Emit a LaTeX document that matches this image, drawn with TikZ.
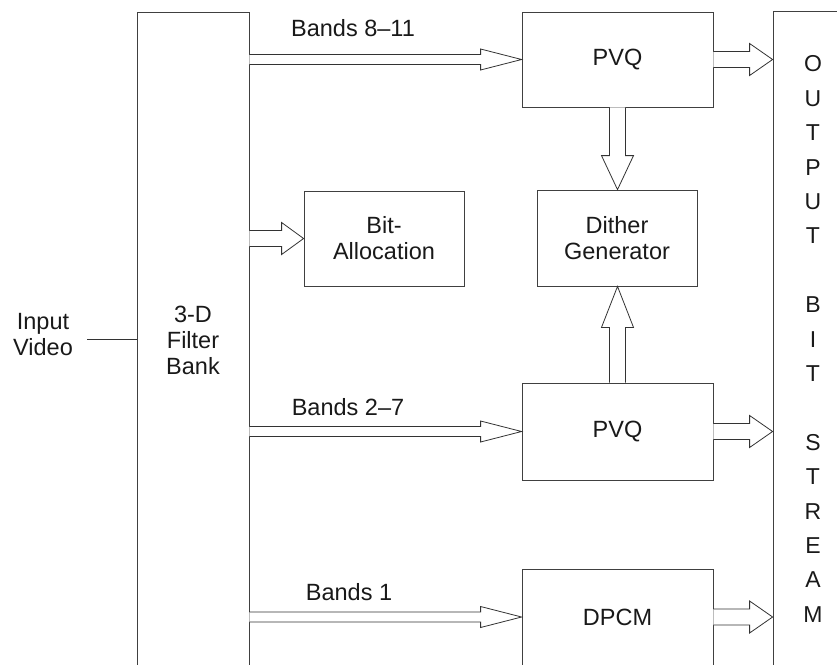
\documentclass[tikz,border=0pt]{standalone}
\usepackage{fontspec}
\setmainfont{Liberation Sans}
\usetikzlibrary{calc}
\tikzset{
  box/.style={draw=black!75, line width=0.8pt, inner sep=0pt, text=black!90,
              font=\fontsize{23.5}{26}\selectfont, align=center},
  lbl/.style={inner sep=0pt, text=black!90, font=\fontsize{23.5}{26}\selectfont, align=center},
  hollow/.style={draw=black!80, line width=0.8pt, line join=miter, fill=white},
  plainline/.style={draw=black!80, line width=0.8pt},
}
% #1 start, #2 end, #3 shaft half width, #4 head half width, #5 head length
\newcommand{\fatarrow}[5]{%
  \coordinate (fa-s) at (#1);
  \coordinate (fa-e) at (#2);
  \coordinate (fa-b) at ($(fa-e)!#5pt!(fa-s)$);
  \draw[hollow] ($(fa-s)!#3pt!90:(fa-e)$) -- ($(fa-b)!#3pt!-90:(fa-s)$)
     -- ($(fa-b)!#4pt!-90:(fa-s)$) -- (fa-e) -- ($(fa-b)!#4pt!90:(fa-s)$)
     -- ($(fa-b)!#3pt!90:(fa-s)$) -- ($(fa-s)!#3pt!-90:(fa-e)$);
}
\begin{document}
\begin{tikzpicture}[x=1pt,y=-1pt]
\useasboundingbox (0,0) rectangle (837,664);
\clip (0,0) rectangle (837,664);

% blocks
\node[box, minimum width=112, minimum height=656] (fb) at (193,340) {3-D\\Filter\\Bank};
\node[box, minimum width=80, minimum height=656, font=\fontsize{23}{34.4}\selectfont] (out) at (813,339)
  {O\\U\\T\\P\\U\\T\\\mbox{}\\B\\I\\T\\\mbox{}\\S\\T\\R\\E\\A\\M};
\node[box, minimum width=191, minimum height=95] (pvqa) at (617.5,59.5) {PVQ};
\node[box, minimum width=160, minimum height=95] (ba) at (384,238.5) {Bit-\\Allocation};
\node[box, minimum width=160, minimum height=96] (dith) at (617,238) {Dither\\Generator};
\node[box, minimum width=191, minimum height=97] (pvqb) at (617.5,431.5) {PVQ};
\node[box, minimum width=191, minimum height=96] (dpcm) at (617.5,617) {DPCM};

% input
\node[lbl] (in) at (43,335) {Input\\Video};
\coordinate (inend) at (87,339);
\draw[plainline] (inend) -- (inend -| fb.west);

% labels
\node[lbl] (l1) at (353,28) {Bands 8–11};
\node[lbl] (l2) at (348,407) {Bands 2–7};
\node[lbl] (l3) at (349,592) {Bands 1};

% band arrows
\fatarrow{fb.east |- pvqa.west}{pvqa.west}{5}{10.5}{41}
\fatarrow{fb.east |- pvqb.west}{pvqb.west}{5}{10.5}{41}
\fatarrow{fb.east |- dpcm.west}{dpcm.west}{5}{10.5}{41}
\fatarrow{fb.east |- ba.west}{ba.west}{8}{16}{22}

% outputs
\fatarrow{pvqa.east}{out.west |- pvqa.east}{8}{16}{23}
\fatarrow{pvqb.east}{out.west |- pvqb.east}{8}{16}{23}
\fatarrow{dpcm.east}{out.west |- dpcm.east}{8}{16}{23}

% dither
\fatarrow{pvqa.south}{pvqa.south |- dith.north}{8}{16}{34}
\fatarrow{pvqb.north}{pvqb.north |- dith.south}{8}{16}{41}
\end{tikzpicture}
\end{document}
